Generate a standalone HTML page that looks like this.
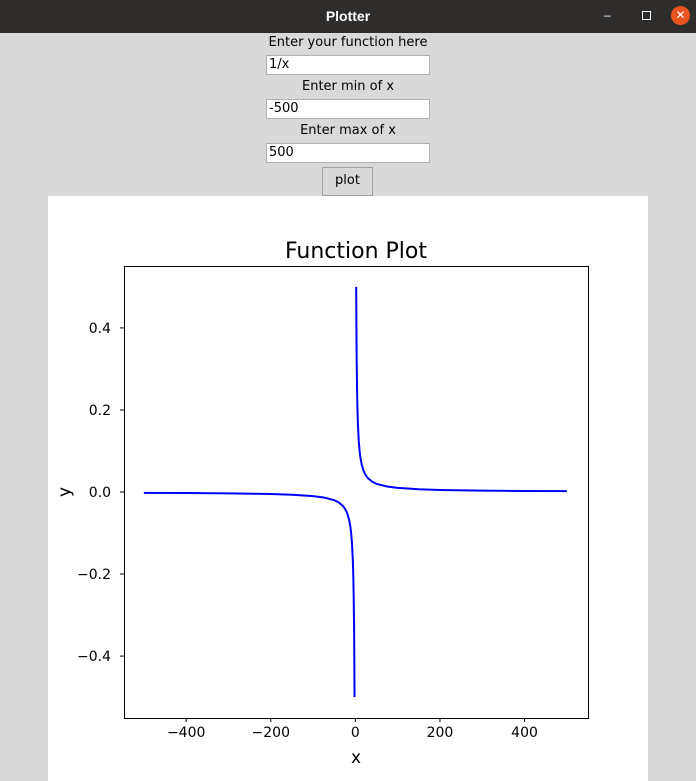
<!DOCTYPE html>
<html><head><meta charset="utf-8"><style>
body{margin:0;width:696px;height:781px;background:#d9d9d9;font-family:"Liberation Sans","DejaVu Sans",sans-serif;position:relative;overflow:hidden}
.tb{position:absolute;left:0;top:0;width:696px;height:33px;background:#2f2d2c;color:#fff;font-weight:bold;font-size:14px;text-align:center;line-height:32px}
.lbl{position:absolute;left:0;width:696px;text-align:center;font-family:"DejaVu Sans",sans-serif;font-size:13px;color:#000}
.inp{position:absolute;left:266px;width:160px;height:18px;background:#fff;border:1px solid #b0b0b0;font-family:"DejaVu Sans",sans-serif;font-size:13px;line-height:18px;padding-left:2px}
.btn{position:absolute;left:322px;top:167px;width:49px;height:27px;background:#d9d9d9;border:1px solid #a0a0a0;font-family:"DejaVu Sans",sans-serif;font-size:13px;text-align:center;line-height:26px}
</style></head><body>
<div class="tb">Plotter
<span style="position:absolute;left:604px;top:-6px;font-weight:normal;font-size:12px">_</span>
<span style="position:absolute;left:642px;top:11px;width:7px;height:7px;border:1px solid #fff"></span>
<span style="position:absolute;left:671px;top:6px;width:19px;height:19px;border-radius:50%;background:#e95420;line-height:19px;font-size:12px">✕</span>
</div>
<div class="lbl" style="top:35px">Enter your function here</div>
<div class="inp" style="top:55px">1/x</div>
<div class="lbl" style="top:79px">Enter min of x</div>
<div class="inp" style="top:99px">-500</div>
<div class="lbl" style="top:123px">Enter max of x</div>
<div class="inp" style="top:143px">500</div>
<div class="btn">plot</div>
<svg id="c" style="position:absolute;left:0;top:0" width="696" height="781">
<rect x="48" y="196" width="600" height="585" fill="#fff"/>
</svg>
<script>
const xTicks=[-400,-200,0,200,400];
const yTicks=[-0.4,-0.2,0.0,0.2,0.4];
const yTickLabels=["\u22120.4","\u22120.2","0.0","0.2","0.4"];
const xTickLabels=["\u2212400","\u2212200","0","200","400"];
const negX=[-500,-400,-300,-200,-150,-100,-75,-50,-40,-30,-25,-20,-15,-12,-10,-8,-6,-5,-4,-3,-2.5,-2];
const negY=[-0.002,-0.0025,-0.0033,-0.005,-0.0067,-0.01,-0.0133,-0.02,-0.025,-0.0333,-0.04,-0.05,-0.0667,-0.0833,-0.1,-0.125,-0.1667,-0.2,-0.25,-0.3333,-0.4,-0.5];
const posX=[2,2.5,3,4,5,6,8,10,12,15,20,25,30,40,50,75,100,150,200,300,400,500];
const posY=[0.5,0.4,0.3333,0.25,0.2,0.1667,0.125,0.1,0.0833,0.0667,0.05,0.04,0.0333,0.025,0.02,0.0133,0.01,0.0067,0.005,0.0033,0.0025,0.002];
const L=124,R=588,T=266,B=718,xmin=-547,xmax=550,ymin=-0.551,ymax=0.551;
const sx=v=>L+(v-xmin)/(xmax-xmin)*(R-L);
const sy=v=>B-(v-ymin)/(ymax-ymin)*(B-T);
const svg=document.getElementById('c');const NS='http://www.w3.org/2000/svg';
function mk(t,a,txt){const e=document.createElementNS(NS,t);for(const k in a)e.setAttribute(k,a[k]);if(txt!==undefined)e.textContent=txt;svg.appendChild(e);return e;}
let e;
e=mk('text',{x:356,y:258,'text-anchor':'middle','font-size':'22','font-family':'DejaVu Sans, sans-serif'},'Function Plot');


xTicks.forEach((v,i)=>{
 e=mk('line',{x1:sx(v),x2:sx(v),y1:B,y2:B+4,stroke:'#000'});
 
 
 e=mk('text',{x:sx(v),y:B+19,'text-anchor':'middle','font-size':'14','font-family':'DejaVu Sans, sans-serif'},xTickLabels[i]);
 
 
});
yTicks.forEach((v,i)=>{
 e=mk('line',{x1:L-4,x2:L,y1:sy(v),y2:sy(v),stroke:'#000'});
 
 
 e=mk('text',{x:L-13,y:sy(v)+5,'text-anchor':'end','font-size':'14','font-family':'DejaVu Sans, sans-serif'},yTickLabels[i]);
 
 
});
e=mk('text',{x:356,y:763,'text-anchor':'middle','font-size':'17','font-family':'DejaVu Sans, sans-serif'},'x');


e=mk('text',{x:70,y:492,'text-anchor':'middle','font-size':'17','font-family':'DejaVu Sans, sans-serif',transform:'rotate(-90 70 492)'},'y');


const pts=(xs,ys)=>xs.map((x,i)=>sx(x).toFixed(2)+','+sy(ys[i]).toFixed(2)).join(' ');
e=mk('polyline',{points:pts(negX,negY),fill:'none',stroke:'#0000ff','stroke-width':'2'});


e=mk('polyline',{points:pts(posX,posY),fill:'none',stroke:'#0000ff','stroke-width':'2'});


e=mk('rect',{x:L+0.5,y:T+0.5,width:R-L,height:B-T,fill:'none',stroke:'#000'});


</script>
</body></html>
